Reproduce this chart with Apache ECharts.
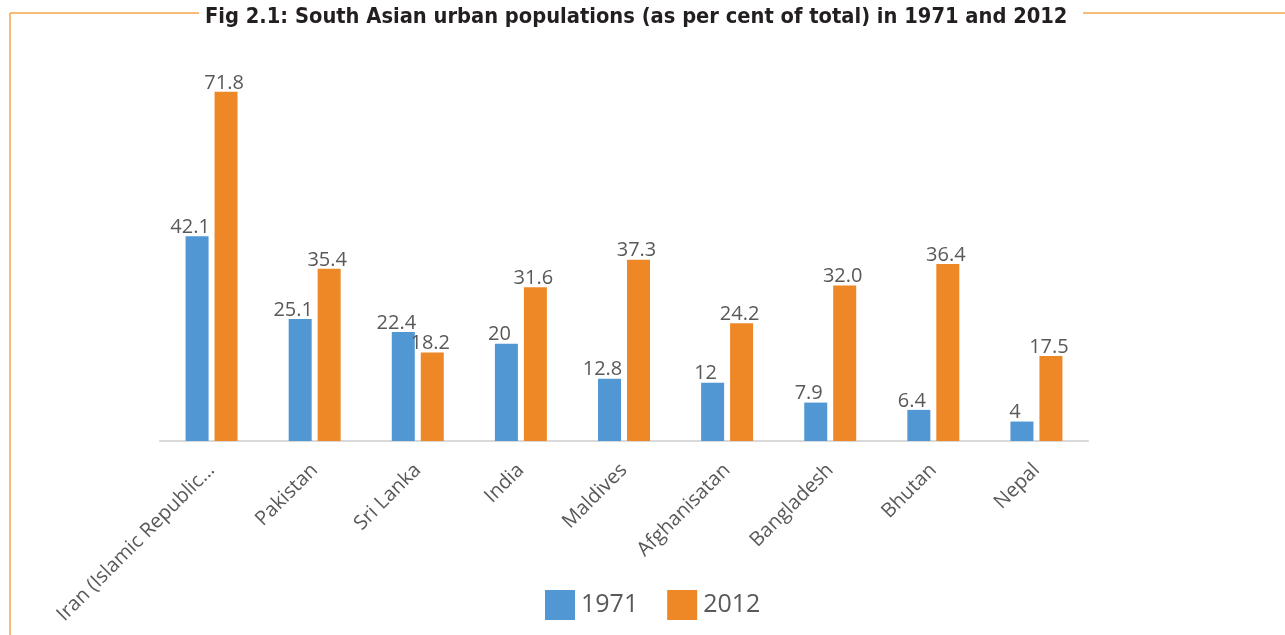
<!DOCTYPE html>
<html>
<head>
<meta charset="utf-8">
<script src="https://cdn.jsdelivr.net/npm/echarts@6/dist/echarts.min.js"></script>
<style>
html, body { margin: 0; padding: 0; background: #fff; }
#main { width: 1285px; height: 635px; }
</style>
</head>
<body>
<div id="main"></div>
<script>
// 数据
var countries = ['Iran (Islamic Republic...', 'Pakistan', 'Sri Lanka', 'India', 'Maldives', 'Afghanisatan', 'Bangladesh', 'Bhutan', 'Nepal'];
var data1971 = [42.1, 25.1, 22.4, 20, 12.8, 12, 7.9, 6.4, 4];
var data2012 = [71.8, 35.4, 18.2, 31.6, 37.3, 24.2, 32.0, 36.4, 17.5];
var labels2012 = ['71.8', '35.4', '18.2', '31.6', '37.3', '24.2', '32.0', '36.4', '17.5'];

var chart = echarts.init(document.getElementById('main'));

var labelStyle = {
	show: true,
	position: 'top',
	distance: 0,
	color: '#595959',
	fontSize: 20,
	fontFamily: 'Open Sans'
};

var option = {
	animation: false,
	title: {
		text: 'Fig 2.1: South Asian urban populations (as per cent of total) in 1971 and 2012',
		left: 200,
		top: 1,
		textStyle: {
			fontFamily: 'DejaVu Sans Condensed, Liberation Sans, sans-serif',
			fontWeight: 'bold',
			fontSize: 21.7,
			color: '#231f20'
		}
	},
	//橙色边框
	graphic: [
		{ type: 'line', shape: { x1: 10, y1: 13, x2: 199, y2: 13 }, style: { stroke: '#f5a54c', lineWidth: 1.5 } },
		{ type: 'line', shape: { x1: 10, y1: 13, x2: 10, y2: 635 }, style: { stroke: '#f5a54c', lineWidth: 1.5 } },
		{ type: 'line', shape: { x1: 1083, y1: 13, x2: 1285, y2: 13 }, style: { stroke: '#f5a54c', lineWidth: 1.5 } }
	],
	legend: {
		data: ['1971', '2012'],
		bottom: 10,
		left: 540,
		itemWidth: 30,
		itemHeight: 30,
		itemGap: 29,
		icon: 'rect',
		textStyle: { color: '#595959', fontSize: 25, fontFamily: 'Open Sans', padding: [0, 0, 0, 1] }
	},
	grid: {
		left: 160,
		right: 197,
		top: 52,
		bottom: 194,
		containLabel: false
	},
	xAxis: {
		type: 'category',
		data: countries,
		axisLine: { lineStyle: { color: '#d9d9d9', width: 2 } },
		axisTick: { show: false },
		axisLabel: {
			rotate: 45,
			margin: 26,
			interval: 0,
			color: '#595959',
			fontSize: 20,
			fontFamily: 'Open Sans'
		}
	},
	yAxis: {
		type: 'value',
		min: 0,
		max: 80,
		show: false,
		splitLine: { show: false }
	},
	series: [
		{
			name: '1971',
			type: 'bar',
			data: data1971,
			barWidth: 23,
			barGap: '26%',
			itemStyle: { color: '#5197d4' },
			label: Object.assign({}, labelStyle, { offset: [-7, 1] })
		},
		{
			name: '2012',
			type: 'bar',
			data: data2012,
			barWidth: 23,
			itemStyle: { color: '#ee8726' },
			label: Object.assign({}, labelStyle, {
				offset: [-2, 1],
				formatter: function(p) { return labels2012[p.dataIndex]; }
			})
		}
	]
};
chart.setOption(option);
</script>
</body>
</html>
